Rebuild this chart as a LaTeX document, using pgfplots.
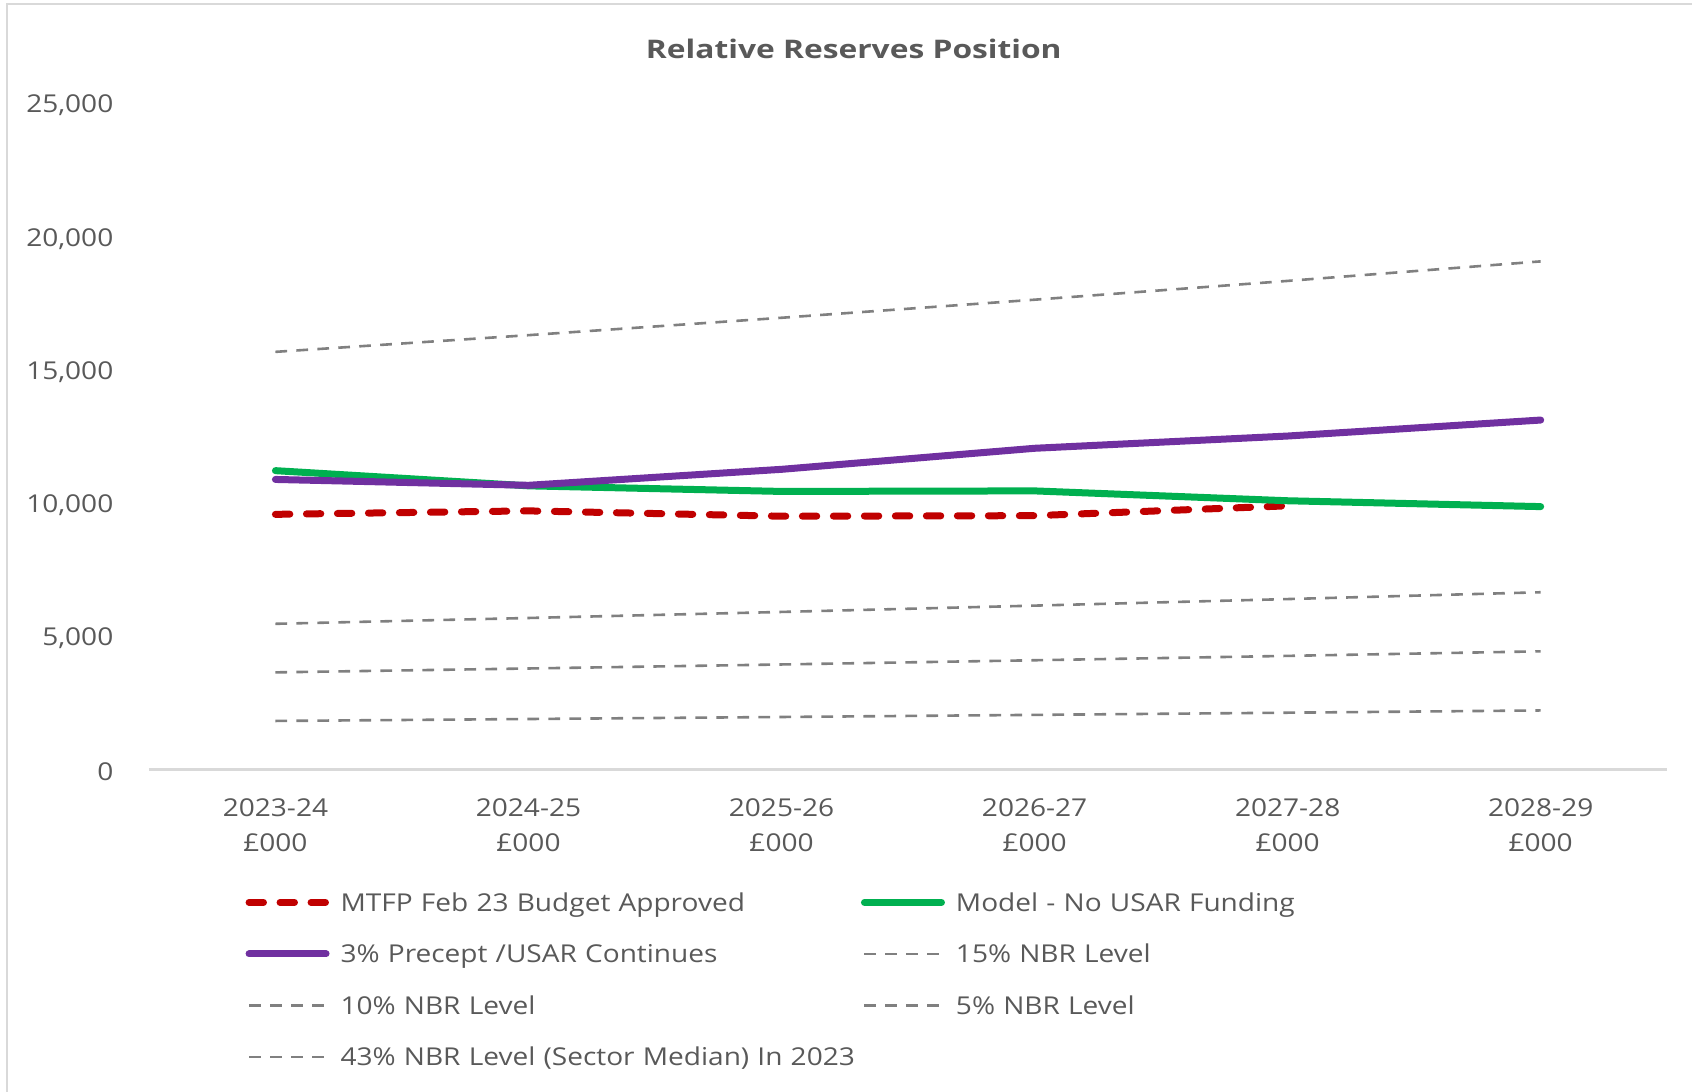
\documentclass[border=0pt]{standalone}
\usepackage{fontspec}
\setmainfont{Open Sans}[FakeStretch=1.14]
\newfontfamily\titlefont{Open Sans}[FakeStretch=1.24]
\usepackage{pgfplots}
\pgfplotsset{compat=1.18}
\definecolor{txt}{HTML}{595959}
\definecolor{bord}{HTML}{D9D9D9}
\definecolor{cred}{HTML}{C00000}
\definecolor{cgreen}{HTML}{00B050}
\definecolor{cpurple}{HTML}{7030A0}
\definecolor{cgray}{HTML}{808080}
\begin{document}
\begin{tikzpicture}
\useasboundingbox (0,0) rectangle (846pt,-546pt);
\draw[color=bord, line width=1pt] (3.5pt,-546pt) -- (3.5pt,-2pt) -- (846pt,-2pt);
\node[anchor=base, font=\titlefont\bfseries\fontsize{12.8}{15}\selectfont, text=txt, inner sep=0pt] at (426.9pt,-29.15pt) {Relative Reserves Position};
\begin{axis}[
  at={(74.45pt,-384.75pt)}, anchor=south west,
  scale only axis, width=759.15pt, height=332.95pt,
  xmin=-0.5, xmax=5.5, ymin=0, ymax=25000,
  axis x line*=bottom, axis y line*=left,
  x axis line style={draw=bord, line width=1.2pt, -},
  y axis line style={draw=none},
  major tick length=0pt, tick style={draw=none},
  ytick={0,5000,10000,15000,20000,25000},
  scaled y ticks=false,
  /pgf/number format/.cd, fixed, 1000 sep={,}, assume math mode=true, /pgfplots/.cd,
  yticklabel style={anchor=east, inner sep=0pt, xshift=-17.6pt, yshift=-1pt, text=txt, font=\fontsize{12.3}{14}\selectfont},
  xtick={0,1,2,3,4,5},
  xticklabels={{2023-24\\£000},{2024-25\\£000},{2025-26\\£000},{2026-27\\£000},{2027-28\\£000},{2028-29\\£000}},
  xticklabel style={anchor=north, inner sep=0pt, yshift=-14.25pt, align=center, text=txt, font=\fontsize{12.3}{17.5}\selectfont},
  legend columns=2, legend cell align=left,
  legend style={at={(0.0634,-0.1858)}, anchor=north west, draw=none, fill=none, inner sep=0pt, row sep=16.95pt,
    font=\fontsize{12.3}{14}\selectfont, text=txt,
    nodes={inner sep=0pt, text width=260.2pt, align=left, text height=8.8pt, text depth=0pt},
    /tikz/every odd column/.append style={column sep=5.5pt},
    /tikz/every even column/.append style={column sep=0pt}},
  legend image code/.code={\draw[#1] (0pt,0pt) -- (38.5pt,0pt);},
]
\addplot[color=cred, line width=3.5pt, dash pattern=on 7.2pt off 8.3pt, line cap=round, line join=round]
  coordinates {(0,9580) (1,9710) (2,9510) (3,9530) (4,9900)};
\addlegendentry{MTFP Feb 23 Budget Approved}
\addplot[color=cgreen, line width=3.5pt, line cap=round, line join=round]
  coordinates {(0,11220) (1,10650) (2,10440) (3,10460) (4,10090) (5,9870)};
\addlegendentry{Model - No USAR Funding}
\addplot[color=cpurple, line width=3.5pt, line cap=round, line join=round]
  coordinates {(0,10890) (1,10670) (2,11270) (3,12060) (4,12520) (5,13120)};
\addlegendentry{3\% Precept /USAR Continues}
\addplot[color=cgray, line width=1.3pt, dash pattern=on 5.85pt off 4.65pt]
  coordinates {(0,5470) (1,5689) (2,5916) (3,6153) (4,6399) (5,6655)};
\addlegendentry{15\% NBR Level}
\addplot[color=cgray, line width=1.3pt, dash pattern=on 5.85pt off 4.65pt]
  coordinates {(0,3647) (1,3793) (2,3944) (3,4102) (4,4266) (5,4437)};
\addlegendentry{10\% NBR Level}
\addplot[color=cgray, line width=1.3pt, dash pattern=on 5.85pt off 4.65pt]
  coordinates {(0,1823) (1,1896) (2,1972) (3,2051) (4,2133) (5,2218)};
\addlegendentry{5\% NBR Level}
\addplot[color=cgray, line width=1.3pt, dash pattern=on 5.85pt off 4.65pt]
  coordinates {(0,15680) (1,16307) (2,16960) (3,17638) (4,18344) (5,19077)};
\addlegendentry{43\% NBR Level (Sector Median) In 2023}
\end{axis}
\end{tikzpicture}
\end{document}
